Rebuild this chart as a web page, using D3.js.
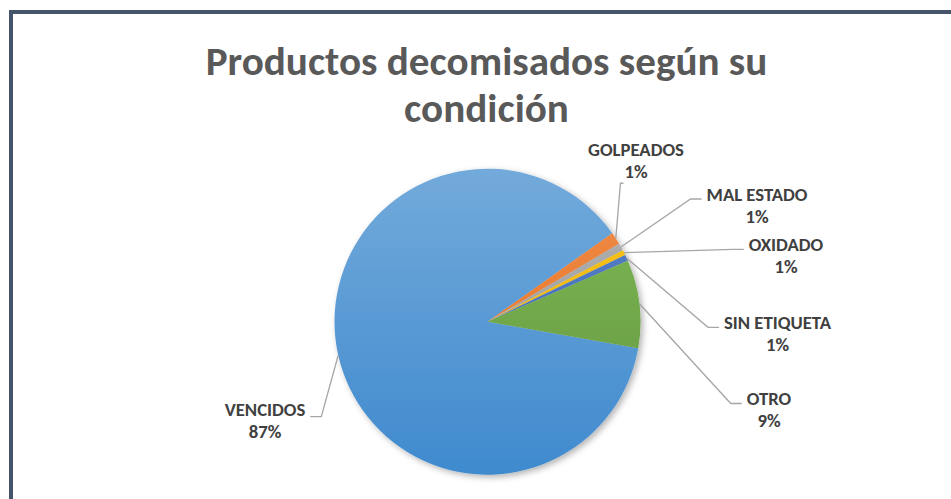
<!DOCTYPE html>
<html>
<head>
<meta charset="utf-8">
<script src="https://cdn.jsdelivr.net/npm/d3@7"></script>
<style>
html, body { margin: 0; padding: 0; background: #fff; overflow: hidden; }
</style>
</head>
<body>
<div id="chart"></div>
<script>
// data (shares in %)
const categories = ["VENCIDOS", "GOLPEADOS", "MAL ESTADO", "OXIDADO", "SIN ETIQUETA", "OTRO"];
const values = [87.4, 1.3, 0.8, 0.55, 0.65, 9.3];
const sliceColors = ["#5B9BD5", "#ED7D31", "#A5A5A5", "#FFC000", "#4472C4", "#70AD47"];
const titleLines = ["Productos decomisados según su", "condición"];

const width = 951, height = 499;
const cx = 487.5, cy = 321.7, radius = 153;
const fontFamily = "Carlito, Calibri, Lato, sans-serif";

// where each label block sits (centre), like the original layout
const labelSpots = {
    "VENCIDOS": [265, 420.7],
    "GOLPEADOS": [636, 160.5],
    "MAL ESTADO": [757, 205],
    "OXIDADO": [786, 255.3],
    "SIN ETIQUETA": [777.5, 333.3],
    "OTRO": [769, 409.5]
};

const svg = d3.select('#chart')
              .append('svg')
              .attr('width', width)
              .attr('height', height);

const defs = svg.append('defs');

// chart frame, only its top and left edges show in the crop
svg.append('rect')
   .attr('x', 11).attr('y', 12)
   .attr('width', 1000).attr('height', 600)
   .attr('fill', '#fff')
   .attr('stroke', '#44546A')
   .attr('stroke-width', 4);

// scale a font so a reference string gets a given width
function fitSize(text, target) {
    const t = svg.append('text')
                 .attr('font-family', fontFamily)
                 .attr('font-weight', 700)
                 .attr('font-size', 100)
                 .text(text);
    const w = t.node().getComputedTextLength();
    t.remove();
    return 100 * target / w;
}

const titleSize = fitSize(titleLines[0], 562);
const labelSize = fitSize("MAL ESTADO", 101);

// title
svg.append('g')
   .selectAll('text')
   .data(titleLines)
   .enter()
   .append('text')
   .attr('x', 486.5)
   .attr('y', (d, i) => i === 0 ? 75 : 121.7)
   .attr('text-anchor', 'middle')
   .attr('font-family', fontFamily)
   .attr('font-weight', 700)
   .attr('font-size', titleSize)
   .attr('fill', '#595959')
   .text(d => d);

// pie
const rows = categories.map((c, i) => ({ name: c, value: values[i], color: sliceColors[i] }));
const total = d3.sum(values);
const pct = d3.format('.0%');

const start = 100 * Math.PI / 180;
const pie = d3.pie()
              .sort(null)
              .value(d => d.value)
              .startAngle(start)
              .endAngle(start + 2 * Math.PI);
const arcs = pie(rows);

const arc = d3.arc().innerRadius(0).outerRadius(radius);
const rim = d3.arc().innerRadius(radius).outerRadius(radius);

// soft shadow like the office style
const shadow = defs.append('filter')
                   .attr('id', 'shadow')
                   .attr('x', '-20%').attr('y', '-20%')
                   .attr('width', '140%').attr('height', '140%');
shadow.append('feDropShadow')
      .attr('dx', 2.5).attr('dy', 2.5)
      .attr('stdDeviation', 3)
      .attr('flood-color', '#000')
      .attr('flood-opacity', 0.3);

// top-to-bottom gradient per slice, lighter on top
rows.forEach((r, i) => {
    const top = d3.hsl(r.color), bottom = d3.hsl(r.color);
    top.l = Math.min(1, top.l + 0.06);
    bottom.l = bottom.l - 0.07;
    const g = defs.append('linearGradient')
                  .attr('id', 'grad' + i)
                  .attr('gradientUnits', 'userSpaceOnUse')
                  .attr('x1', 0).attr('y1', -radius)
                  .attr('x2', 0).attr('y2', radius);
    g.append('stop').attr('offset', '0%').attr('stop-color', top.formatHex());
    g.append('stop').attr('offset', '100%').attr('stop-color', bottom.formatHex());
});

const pieGroup = svg.append('g')
                    .attr('transform', `translate(${cx}, ${cy})`)
                    .attr('filter', 'url(#shadow)');

pieGroup.selectAll('path')
        .data(arcs)
        .enter()
        .append('path')
        .attr('d', arc)
        .attr('fill', (d, i) => `url(#grad${i})`);

// labels
const labelGroup = svg.append('g');
const lineGap = 22;
const capHalf = labelSize * 0.36;

arcs.forEach(d => {
    const [lx, ly] = labelSpots[d.data.name];
    const lines = [d.data.name, pct(d.data.value / total)];

    const texts = labelGroup.selectAll(null)
        .data(lines)
        .enter()
        .append('text')
        .attr('x', lx)
        .attr('y', (t, i) => ly + (i === 0 ? -lineGap / 2 : lineGap / 2) + capHalf)
        .attr('text-anchor', 'middle')
        .attr('font-family', fontFamily)
        .attr('font-weight', 700)
        .attr('font-size', labelSize)
        .attr('fill', '#404040')
        .text(t => t);

    const widths = texts.nodes().map(n => n.getComputedTextLength());
    const boxW = d3.max(widths);

    // leader line from the slice rim to the label
    const [sx, sy] = rim.centroid(d);
    const p0 = [cx + sx, cy + sy];
    let pts;
    if (ly < cy - radius) {
        // label above the pie: join at its bottom
        const pctLeft = lx - widths[1] / 2;
        const yb = ly + lineGap / 2 + capHalf + 5;
        pts = [p0, [pctLeft - 4, yb], [pctLeft - 1, yb]];
    } else if (lx > cx) {
        const edge = lx - boxW / 2;
        const yy = ly - 6;
        pts = [p0, [edge - 16, yy], [edge - 5, yy]];
    } else {
        const edge = lx + boxW / 2;
        const yy = ly - 4;
        pts = [p0, [edge + 16, yy], [edge + 5, yy]];
    }

    labelGroup.append('path')
              .attr('d', d3.line()(pts))
              .attr('fill', 'none')
              .attr('stroke', '#A6A6A6')
              .attr('stroke-width', 1.3);
});
</script>
</body>
</html>
